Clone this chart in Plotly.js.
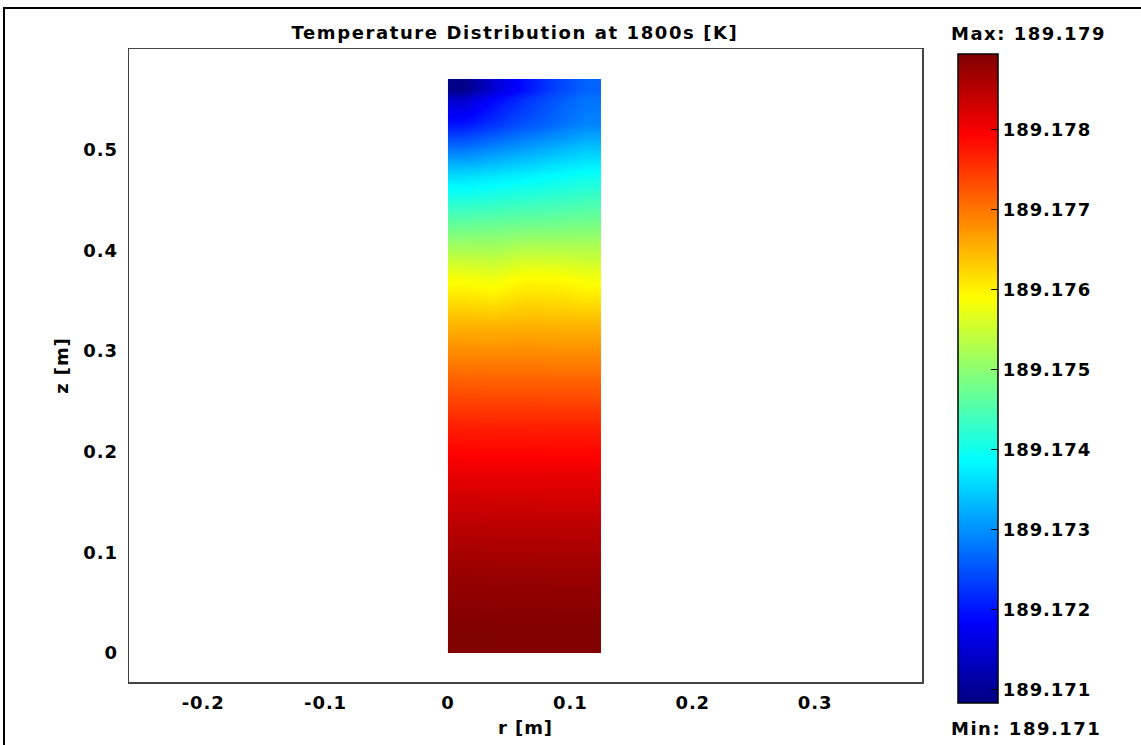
<!DOCTYPE html>
<html>
<head>
<meta charset="utf-8">
<script src="https://cdn.plot.ly/plotly-3.0.1.min.js"></script>
<style>
  html, body { margin:0; padding:0; background:#fff; overflow:hidden; }
  #chart { width:1141px; height:745px; }
  #frame { position:absolute; left:3px; top:7px; width:2000px; height:2000px; border:2px solid #000; pointer-events:none; }
  .main-svg text { letter-spacing: 0.9px; }
  .main-svg .gtitle { letter-spacing: 1.6px; }
  .main-svg .annotation-text { letter-spacing: 1.5px; }
</style>
</head>
<body>
<div id="chart"></div>
<div id="frame"></div>
<script>
// r cell edges [m]
const rEdges = [0, 0.025, 0.05, 0.075, 0.1, 0.125];
// z cell edges [m]
const zEdges = [0, 0.05, 0.1, 0.15, 0.2, 0.25, 0.3, 0.35, 0.4, 0.45, 0.5, 0.55, 0.57];
// temperature [K], one row per z cell (bottom to top), one column per r cell
const tempRow01 = [189.17893, 189.17893, 189.17892, 189.17892, 189.17892];
const tempRow02 = [189.17877, 189.17876, 189.17876, 189.17875, 189.17875];
const tempRow03 = [189.17849, 189.17848, 189.17848, 189.17847, 189.17847];
const tempRow04 = [189.17813, 189.17812, 189.17812, 189.17811, 189.17811];
const tempRow05 = [189.17769, 189.17768, 189.17768, 189.17767, 189.17767];
const tempRow06 = [189.17711, 189.17710, 189.17710, 189.17709, 189.17709];
const tempRow07 = [189.17651, 189.17650, 189.17652, 189.17650, 189.17650];
const tempRow08 = [189.17580, 189.17572, 189.17590, 189.17588, 189.17578];
const tempRow09 = [189.17470, 189.17474, 189.17478, 189.17480, 189.17485];
const tempRow10 = [189.17358, 189.17366, 189.17375, 189.17385, 189.17395];
const tempRow11 = [189.17200, 189.17225, 189.17250, 189.17270, 189.17290];
const tempRow12 = [189.17088, 189.17150, 189.17195, 189.17235, 189.17262];
const tempGrid = [tempRow01, tempRow02, tempRow03, tempRow04, tempRow05, tempRow06,
                  tempRow07, tempRow08, tempRow09, tempRow10, tempRow11, tempRow12];
const tempMin = 189.17083;
const tempMax = 189.17894;
const cbTicks = [189.171, 189.172, 189.173, 189.174, 189.175, 189.176, 189.177, 189.178];
const cbTickText = ['189.171', '189.172', '189.173', '189.174', '189.175', '189.176', '189.177', '189.178'];
const xTicks = [-0.2, -0.1, 0, 0.1, 0.2, 0.3];
const xTickText = ['-0.2', '-0.1', '0', '0.1', '0.2', '0.3'];
const yTicks = [0, 0.1, 0.2, 0.3, 0.4, 0.5];
const yTickText = ['0', '0.1', '0.2', '0.3', '0.4', '0.5'];

const jet = [[0, '#000080'], [0.125, '#0000ff'], [0.375, '#00ffff'],
             [0.625, '#ffff00'], [0.875, '#ff0000'], [1, '#800000']];

const FONT = 'DejaVu Sans, Liberation Sans, Arial, sans-serif';
const W = 1141, H = 745;
const L = 129, R = 922, T = 49, B = 682;
const pw = R - L, ph = B - T;
const textFont = {family: FONT, size: 18, color: '#000', weight: 'bold'};

const trace = {
  type: 'heatmap',
  x: rEdges,
  y: zEdges,
  z: tempGrid,
  zsmooth: 'best',
  colorscale: jet,
  zmin: tempMin,
  zmax: tempMax,
  hoverinfo: 'x+y+z',
  colorbar: {
    x: (958 - L) / pw, xanchor: 'left', xpad: 0,
    y: (B - 378.5) / ph, yanchor: 'middle', ypad: 0,
    lenmode: 'pixels', len: 649,
    thicknessmode: 'pixels', thickness: 40,
    outlinewidth: 1.5, outlinecolor: '#000',
    ticks: 'inside', ticklen: 7, tickwidth: 1, tickcolor: '#000',
    tickmode: 'array', tickvals: cbTicks, ticktext: cbTickText,
    tickfont: textFont
  }
};

const layout = {
  width: W, height: H,
  margin: {l: L, r: W - R, t: T, b: H - B, pad: 0},
  paper_bgcolor: '#fff', plot_bgcolor: '#fff',
  showlegend: false,
  title: {
    text: 'Temperature Distribution at 1800s [K]',
    font: textFont,
    xref: 'container', x: 515 / W, xanchor: 'center',
    yref: 'container', y: (H - 33) / H, yanchor: 'middle'
  },
  xaxis: {
    range: [-0.2606, 0.3873],
    tickmode: 'array', tickvals: xTicks, ticktext: xTickText,
    ticks: '', showgrid: false, zeroline: false,
    showline: true, mirror: true, linecolor: '#444', linewidth: 1.5,
    tickfont: textFont,
    ticklabelstandoff: 4,
    title: {text: 'r [m]', standoff: 9, font: textFont}
  },
  yaxis: {
    range: [-0.0288, 0.5998],
    tickmode: 'array', tickvals: yTicks, ticktext: yTickText,
    ticks: '', showgrid: false, zeroline: false,
    showline: true, mirror: true, linecolor: '#444', linewidth: 1.5,
    tickfont: textFont,
    ticklabelstandoff: 6,
    title: {text: 'z [m]', standoff: 12, font: textFont}
  },
  annotations: [
    {text: 'Max: 189.179', xref: 'paper', yref: 'paper', x: (958 - L) / pw, y: (B - 33) / ph,
     xanchor: 'left', yanchor: 'middle', showarrow: false, font: textFont},
    {text: 'Min: 189.171', xref: 'paper', yref: 'paper', x: (958 - L) / pw, y: (B - 728) / ph,
     xanchor: 'left', yanchor: 'middle', showarrow: false, font: textFont}
  ]
};

Plotly.newPlot('chart', [trace], layout, {displayModeBar: false, staticPlot: true});
</script>
</body>
</html>
